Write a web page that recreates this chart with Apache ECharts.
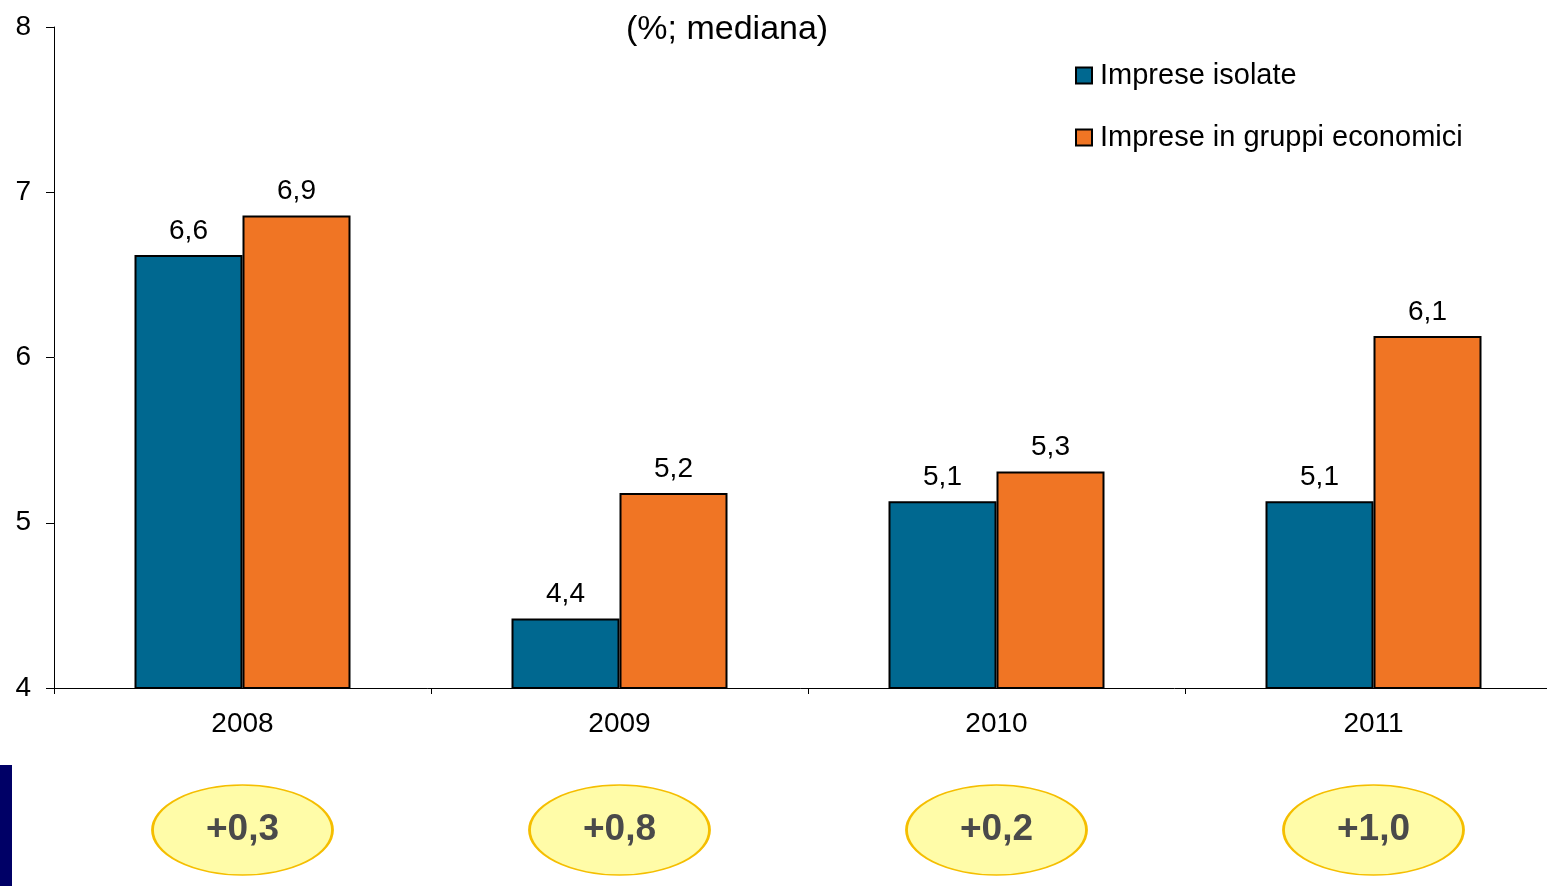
<!DOCTYPE html>
<html>
<head>
<meta charset="utf-8">
<script src="https://cdn.jsdelivr.net/npm/echarts@6/dist/echarts.min.js"></script>
<style>html,body{margin:0;padding:0;background:#fff}#c{width:1547px;height:886px}</style>
</head>
<body>
<div id="c"></div>
<script>
const categories = ['2008', '2009', '2010', '2011'];
const seriesNames = ['Imprese isolate', 'Imprese in gruppi economici'];
const isolate = [6.62, 4.42, 5.13, 5.13];
const gruppi = [6.86, 5.18, 5.31, 6.13];
const diffLabels = ['+0,3', '+0,8', '+0,2', '+1,0'];
const yTicks = [4, 5, 6, 7, 8];

const FONT = '"Liberation Sans", Arial, sans-serif';
const chart = echarts.init(document.getElementById('c'));
const fmt = p => p.value.toFixed(1).replace('.', ',');

chart.setOption({
  animation: false,
  textStyle: { fontFamily: FONT },
  title: {
    text: '(%; mediana)', left: 621, top: 8,
    textStyle: { fontFamily: FONT, fontSize: 34, fontWeight: 'normal', color: '#000' }
  },
  legend: {
    orient: 'vertical', left: 1070, top: 56, itemWidth: 16, itemHeight: 16, itemGap: 33,
    icon: 'rect',
    textStyle: { fontFamily: FONT, fontSize: 29, color: '#000', padding: [0, 0, 0, 3] },
    data: seriesNames
  },
  grid: [
    { left: 54, width: 1508, top: 27, bottom: 198, outerBoundsMode: 'none' },
    { left: 54, width: 1508, top: 775, height: 110, outerBoundsMode: 'none' }
  ],
  xAxis: [
    {
      type: 'category', data: categories, gridIndex: 0,
      axisLine: { lineStyle: { color: '#000', width: 1 } },
      axisTick: { show: true, length: 6, lineStyle: { color: '#000' } },
      axisLabel: { fontFamily: FONT, fontSize: 28, color: '#000', margin: 22 }
    },
    { type: 'category', data: categories, gridIndex: 1, show: false }
  ],
  yAxis: [
    {
      type: 'value', min: yTicks[0], max: yTicks[yTicks.length - 1], interval: 1, gridIndex: 0,
      axisLine: { show: true, lineStyle: { color: '#000', width: 1 } },
      axisTick: { show: true, length: 8, lineStyle: { color: '#000' } },
      splitLine: { show: false },
      axisLabel: { fontFamily: FONT, fontSize: 28, color: '#000', margin: 23 }
    },
    { type: 'value', min: 0, max: 1, gridIndex: 1, show: false }
  ],
  series: [
    {
      name: seriesNames[0], type: 'bar', data: isolate, barWidth: 108, barGap: '0%',
      itemStyle: { color: '#006890', borderColor: '#000', borderWidth: 2 },
      label: { show: true, position: 'top', distance: 10, formatter: fmt, fontFamily: FONT, fontSize: 28, color: '#000' }
    },
    {
      name: seriesNames[1], type: 'bar', data: gruppi, barWidth: 108, barGap: '0%',
      itemStyle: { color: '#F07524', borderColor: '#000', borderWidth: 2 },
      label: { show: true, position: 'top', distance: 10, formatter: fmt, fontFamily: FONT, fontSize: 28, color: '#000' }
    },
    {
      type: 'scatter', xAxisIndex: 1, yAxisIndex: 1, silent: true,
      symbol: 'circle', symbolSize: [180, 90],
      data: diffLabels.map((t, i) => ({ value: [i, 0.5], name: t })),
      itemStyle: { color: '#FFFCA8', borderColor: '#F5BE00', borderWidth: 2, opacity: 1 },
      label: { show: true, position: 'inside', formatter: p => p.name, fontFamily: FONT, fontSize: 37, fontWeight: 'bold', color: '#4a4a4a' }
    }
  ],
  graphic: [
    { type: 'rect', left: 0, top: 765, shape: { width: 12, height: 121 }, style: { fill: '#000066' } }
  ]
});
</script>
</body>
</html>
